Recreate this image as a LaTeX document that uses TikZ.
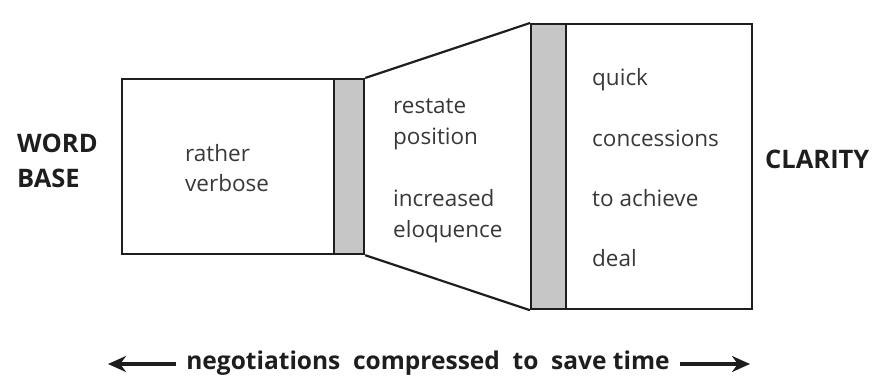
\documentclass[tikz,border=0pt]{standalone}
\usepackage{fontspec}
\setmainfont{Open Sans}
\usetikzlibrary{arrows.meta}
\definecolor{ink}{HTML}{1E1E1E}
\definecolor{txt}{HTML}{383838}
\definecolor{barfill}{HTML}{C6C6C6}
\begin{document}
\begin{tikzpicture}[x=1pt,y=1pt,
  frame/.style={draw=ink,line width=2.2pt,rectangle,inner sep=0pt,anchor=north west},
  bar/.style={frame,fill=barfill},
  body/.style={text=txt,align=left,anchor=west,inner sep=0pt},
  head/.style={text=ink,align=left,anchor=west,inner sep=0pt,font=\fontsize{25.5}{35}\selectfont\bfseries},
  sidearrow/.style={draw=ink,line width=3.2pt,-{Stealth[length=18pt,width=16pt,fill=ink]}}]
\useasboundingbox (0,0) rectangle (873,-387);
% stages, left to right
\node[frame,minimum width=212pt,minimum height=175pt] (word) at (121,-78) {};
\node[bar,minimum width=30pt,minimum height=175pt] (bara) at (333,-78) {};
\node[bar,minimum width=35pt,minimum height=285pt] (barb) at (530,-23) {};
\node[frame,minimum width=186pt,minimum height=285pt] (clear) at (565,-23) {};
% widening section between the two bars
\draw[ink,line width=2.2pt,line join=miter] (bara.north east) -- (barb.north west);
\draw[ink,line width=2.2pt,line join=miter] (bara.south east) -- (barb.south west);
% texts inside the stages
\node[body,font=\fontsize{22.5}{30}\selectfont] (verb) at (185,-168) {rather\\verbose};
\node[body,font=\fontsize{22.5}{31}\selectfont] (rest) at (393,-124) {restate\\position};
\node[body,font=\fontsize{22.5}{31}\selectfont] (elo) at (393,-216) {increased\\eloquence};
\node[body,font=\fontsize{22.5}{60.3}\selectfont] (deal) at (592,-168) {quick\\concessions\\to achieve\\deal};
% end labels
\node[head] (wb) at (17,-161) {WORD\\BASE};
\node[head] (cl) at (765,-159) {CLARITY};
% caption with arrows
\node[text=ink,font=\fontsize{24.5}{28}\selectfont\bfseries,inner sep=0pt] (cap) at (428,-363)
  {negotiations\ \ compressed\ \ to\ \ save time};
\coordinate (la) at (108,-364);
\coordinate (ra) at (750,-364);
\draw[sidearrow] ([xshift=-10pt]cap.west |- la) -- (la);
\draw[sidearrow] ([xshift=10pt]cap.east |- ra) -- (ra);
\end{tikzpicture}
\end{document}
